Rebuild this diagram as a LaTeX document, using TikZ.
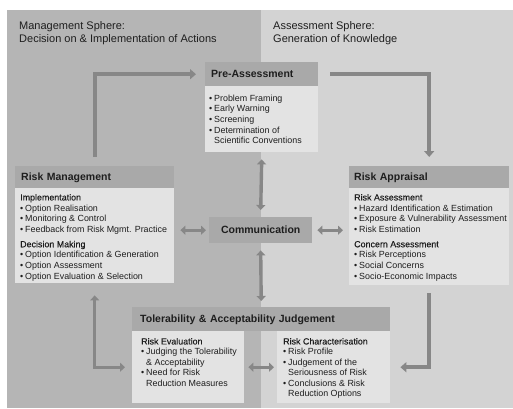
\documentclass[tikz,border=0pt]{standalone}
\usepackage{fontspec}
\setmainfont{Liberation Sans}
\newfontfamily\medfont[FakeBold=0.3]{Liberation Sans}
\usetikzlibrary{arrows.meta}

\definecolor{mgmtbg}{HTML}{B5B5B5}
\definecolor{assbg}{HTML}{D3D3D3}
\definecolor{headfill}{HTML}{A9A9A9}
\definecolor{bodyfill}{HTML}{E3E3E3}
\definecolor{flowgray}{HTML}{878787}
\definecolor{ink}{HTML}{1E1E1E}

\newcommand\bul{\makebox[5pt][l]{•}}
\newcommand\ind{\hspace*{5pt}}
\newcommand\subhd[1]{{\medfont #1}}

\begin{document}
\begin{tikzpicture}[x=1pt,y=-1pt,
  headbox/.style={fill=headfill, draw=none, anchor=north west, inner ysep=0pt,
    text height=7.5pt, text depth=0pt, align=left, text=ink,
    font=\bfseries\fontsize{10.5}{12}\selectfont},
  bodybox/.style={fill=bodyfill, draw=none, anchor=north west, inner sep=0pt},
  bodytext/.style={anchor=north west, inner sep=0pt, align=left, text=ink,
    font=\fontsize{8.9}{10.6}\selectfont},
  sphere/.style={anchor=north west, inner sep=0pt, align=left, text=ink,
    font=\fontsize{11}{13}\selectfont},
  flow/.style={draw=flowgray, line width=3.6pt, -{Triangle[length=6pt,width=10pt]}},
  dflow/.style={draw=flowgray, line width=3.4pt,
    {Triangle[length=5pt,width=9pt]}-{Triangle[length=5pt,width=9pt]}}
]
\useasboundingbox (0,0) rectangle (513,408);
\fill[white] (0,0) rectangle (513,408);

% the two spheres
\fill[mgmtbg] (7,10) rectangle (261,408);
\fill[assbg] (261,10) rectangle (513,408);
\node[sphere] (mgmtsph) at (19,21) {Management Sphere:\\Decision on \& Implementation of Actions};
\node[sphere] (asssph) at (273,21) {Assessment Sphere:\\Generation of Knowledge};

% Pre-Assessment
\node[headbox, inner xsep=6pt, text width=101pt, minimum height=24pt] (preh) at (205,62) {Pre-Assessment};
\node[bodybox, minimum width=113pt, minimum height=66pt] (preb) at (205,86) {};
\node[bodytext] (pret) at (209,94.7) {\bul Problem Framing\\\bul Early Warning\\\bul Screening\\\bul Determination of\\\ind Scientific Conventions};

% Risk Management
\node[headbox, inner xsep=6pt, text width=147pt, minimum height=22pt] (rmh) at (15,166) {Risk Management};
\node[bodybox, minimum width=159pt, minimum height=95pt] (rmb) at (15,188) {};
\node[bodytext] (rmt) at (20,193.8) {\subhd{Implementation}\\\bul Option Realisation\\\bul Monitoring \& Control\\\bul Feedback from Risk Mgmt. Practice\\[4.4pt]
  \subhd{Decision Making}\\\bul Option Identification \& Generation\\\bul Option Assessment\\\bul Option Evaluation \& Selection};

% Risk Appraisal
\node[headbox, inner xsep=5pt, text width=150pt, minimum height=22pt] (rah) at (349,166) {Risk Appraisal};
\node[bodybox, minimum width=160pt, minimum height=97pt] (rab) at (349,188) {};
\node[bodytext] (rat) at (354,193.8) {\subhd{Risk Assessment}\\\bul Hazard Identification \& Estimation\\\bul Exposure \& Vulnerability Assessment\\\bul Risk Estimation\\[4.4pt]
  \subhd{Concern Assessment}\\\bul Risk Perceptions\\\bul Social Concerns\\\bul Socio-Economic Impacts};

% Communication
\node[fill=headfill, anchor=north west, minimum width=103pt, minimum height=26pt, inner sep=0pt,
  text=ink, font=\bfseries\fontsize{10.5}{12}\selectfont, text height=7.5pt, text depth=0pt] (comm) at (209,217) {Communication};

% Tolerability & Acceptability Judgement
\node[headbox, inner xsep=8pt, text width=242pt, minimum height=24pt] (tolh) at (132,307) {Tolerability \& Acceptability Judgement};
\node[bodybox, minimum width=112pt, minimum height=72pt] (tlb) at (132,331) {};
\node[bodybox, minimum width=113pt, minimum height=72pt] (trb) at (277,331) {};
\node[bodytext, font=\fontsize{8.9}{10.5}\selectfont] (tlt) at (141,337.8) {\subhd{Risk Evaluation}\\\bul Judging the Tolerability\\\ind\&  Acceptability\\\bul Need for Risk\\\ind Reduction Measures};
\node[bodytext, font=\fontsize{8.9}{10.5}\selectfont] (trt) at (283,337.8) {\subhd{Risk Characterisation}\\\bul Risk Profile\\\bul Judgement of the\\\ind Seriousness of Risk\\\bul Conclusions \& Risk\\\ind Reduction Options};

% the risk governance cycle
\draw[flow] ([yshift=9pt]rmh.north) |- ([xshift=-9pt]preh.west);
\draw[flow] ([xshift=12pt]preh.east) -| ([yshift=9pt]rah.north);
\draw[flow] ([yshift=-8pt]rab.south) |- ([xshift=10pt]trb.east);
\draw[dflow] ([yshift=-12pt]rmb.south) |- ([xshift=-7pt]tlb.west);

% communication links
\draw[dflow] ([yshift=-7pt]preb.south) -- ([yshift=7pt]comm.north);
\draw[dflow] ([yshift=-7pt]comm.south) -- ([yshift=6pt]tolh.north);
\draw[dflow] ([xshift=-3pt]comm.west) -- ([xshift=6pt]comm.west -| rmb.east);
\draw[dflow] ([xshift=5pt]comm.east) -- ([xshift=-6pt]comm.east -| rab.west);
\draw[dflow] ([xshift=4pt]tlb.east) -- ([xshift=-3pt]trb.west);
\end{tikzpicture}
\end{document}
